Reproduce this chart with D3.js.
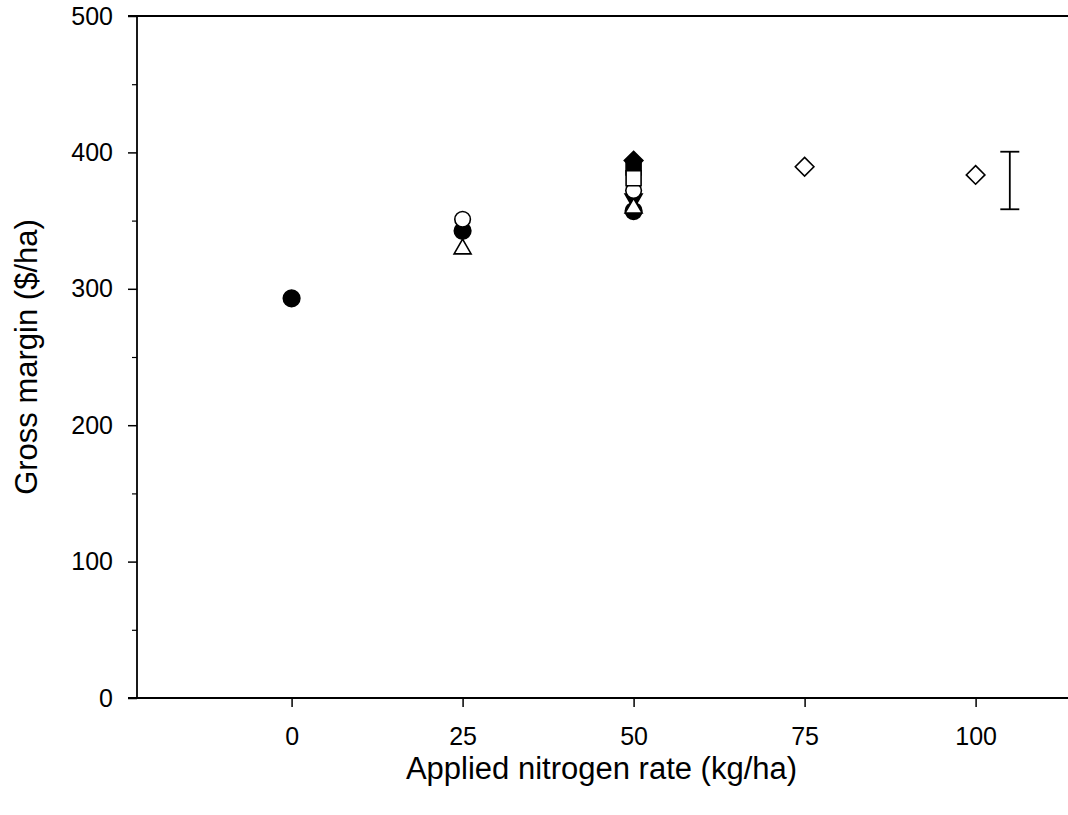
<!DOCTYPE html>
<html>
<head>
<meta charset="utf-8">
<script src="https://cdn.jsdelivr.net/npm/d3@7"></script>
<style>
  html, body { margin: 0; padding: 0; background: #fff; }
  svg { display: block; }
  text { font-family: "Liberation Sans", Arial, sans-serif; fill: #000; }
</style>
</head>
<body>
<svg id="chart" width="1068" height="815"></svg>
<script>
// Gross margin ($/ha) against applied nitrogen rate (kg/ha), one array per symbol series
const filledCircle   = [[0, 293], [25, 342.5], [50, 357]];
const openCircle     = [[25, 351], [50, 372]];
const filledTriDown  = [[50, 364]];
const openTriUp      = [[25, 331], [50, 361]];
const filledSquare   = [[50, 389]];
const openSquare     = [[50, 381]];
const filledDiamond  = [[50, 394]];
const openDiamond    = [[75, 389.5], [100, 383.5]];

// error bar (LSD) drawn at the right of the data
const errorBar = { x: 105, mid: 379.4, half: 21.1 };

const xTicks = [0, 25, 50, 75, 100];
const yTicks = [0, 100, 200, 300, 400, 500];
const yMinorTicks = [50, 150, 250, 350, 450];

const xTitle = "Applied nitrogen rate (kg/ha)";
const yTitle = "Gross margin ($/ha)";

const FONT = "Liberation Sans, Arial, sans-serif";
const svg = d3.select("#chart");

const x = d3.scaleLinear().domain([-22.6, 113.8]).range([137, 1070]);
const y = d3.scaleLinear().domain([0, 500]).range([698, 16]);

// axes frame: left, bottom and top lines
const g = svg.append("g");
const axisStroke = 1.8;

g.append("line").attr("x1", x.range()[0]).attr("x2", x.range()[0])
  .attr("y1", y(0)).attr("y2", y(500))
  .attr("stroke", "#000").attr("stroke-width", axisStroke);
g.append("line").attr("x1", x.range()[0] - 9).attr("x2", x.range()[1])
  .attr("y1", y(0)).attr("y2", y(0))
  .attr("stroke", "#000").attr("stroke-width", axisStroke);
g.append("line").attr("x1", x.range()[0] - 9).attr("x2", x.range()[1])
  .attr("y1", y(500)).attr("y2", y(500))
  .attr("stroke", "#000").attr("stroke-width", axisStroke);

// y axis ticks
const yAxis = d3.axisLeft(y).tickValues(yTicks).tickSize(9).tickPadding(15)
  .tickFormat(d3.format("d"));
const yAxisG = svg.append("g").attr("transform", `translate(${x.range()[0]},0)`).call(yAxis);
yAxisG.attr("font-size", 25).attr("font-family", FONT);
yAxisG.select(".domain").remove();
yAxisG.selectAll(".tick line").attr("stroke-width", 1.5);

const yMinor = d3.axisLeft(y).tickValues(yMinorTicks).tickSize(5).tickFormat("");
const yMinorG = svg.append("g").attr("transform", `translate(${x.range()[0]},0)`).call(yMinor);
yMinorG.select(".domain").remove();
yMinorG.selectAll(".tick line").attr("stroke-width", 1.2);

// x axis ticks
const xAxis = d3.axisBottom(x).tickValues(xTicks).tickSize(9).tickPadding(20)
  .tickFormat(d3.format("d"));
const xAxisG = svg.append("g").attr("transform", `translate(0,${y(0)})`).call(xAxis);
xAxisG.attr("font-size", 25).attr("font-family", FONT);
xAxisG.select(".domain").remove();
xAxisG.selectAll(".tick line").attr("stroke-width", 1.5);

// axis titles
svg.append("text").attr("x", 601.5).attr("y", 779)
  .attr("text-anchor", "middle").attr("font-size", 31).text(xTitle);
svg.append("text").attr("transform", `translate(37,${y(250)}) rotate(-90)`)
  .attr("text-anchor", "middle").attr("font-size", 31).text(yTitle);

// symbol shapes
function circlePath(r) { return d3.symbol(d3.symbolCircle, Math.PI * r * r)(); }
function trianglePath(w, down) {
  const h = w * Math.sqrt(3) / 2;
  const s = down ? -1 : 1;
  return `M0,${-s * h / 2}L${w / 2},${s * h / 2}L${-w / 2},${s * h / 2}Z`;
}
function squarePath(w) { const a = w / 2; return `M${-a},${-a}H${a}V${a}H${-a}Z`; }
function diamondPath(d) { return `M0,${-d}L${d},0L0,${d}L${-d},0Z`; }

const pts = svg.append("g");
function drawSeries(data, path, filled) {
  pts.selectAll(null).data(data).enter().append("path")
    .attr("d", path)
    .attr("transform", d => `translate(${x(d[0])},${y(d[1])})`)
    .attr("fill", filled ? "#000" : "#fff")
    .attr("stroke", "#000")
    .attr("stroke-width", 1.6);
}

drawSeries(filledCircle, circlePath(8.3), true);
drawSeries(filledTriDown, trianglePath(17, true), true);
drawSeries(openTriUp, trianglePath(17, false), false);
drawSeries(openCircle, circlePath(7.8), false);
drawSeries(filledSquare, squarePath(15), true);
drawSeries(openSquare, squarePath(15), false);
drawSeries(filledDiamond, diamondPath(9.3), true);
drawSeries(openDiamond, diamondPath(9.3), false);

// error bar
const eb = svg.append("g").attr("stroke", "#000").attr("stroke-width", 1.8);
eb.append("line").attr("x1", x(errorBar.x)).attr("x2", x(errorBar.x))
  .attr("y1", y(errorBar.mid + errorBar.half)).attr("y2", y(errorBar.mid - errorBar.half));
[errorBar.mid + errorBar.half, errorBar.mid - errorBar.half].forEach(v => {
  eb.append("line").attr("x1", x(errorBar.x) - 9.5).attr("x2", x(errorBar.x) + 9.5)
    .attr("y1", y(v)).attr("y2", y(v));
});
</script>
</body>
</html>
